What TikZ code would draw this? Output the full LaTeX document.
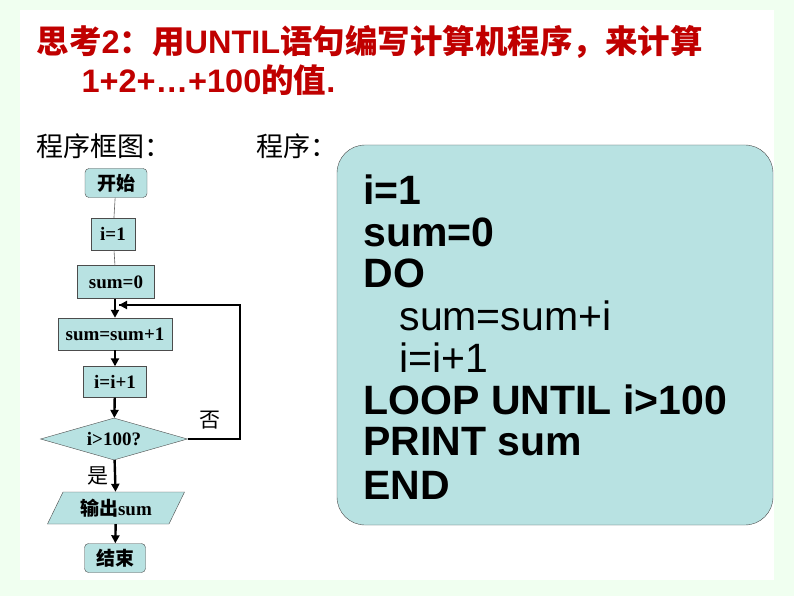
\documentclass[tikz,border=0pt]{standalone}
\usepackage{fontspec}
\setmainfont{Liberation Serif}
\newfontfamily\cjk{Noto Sans CJK SC}
\newfontfamily\arial{Liberation Sans}
\usetikzlibrary{shapes.geometric,arrows.meta}
\definecolor{boxfill}{HTML}{B8E2E2}
\definecolor{titlered}{HTML}{C00000}
\tikzset{
  fc/.style={draw=black!70,fill=boxfill,font=\bfseries\fontsize{19}{21}\selectfont,inner sep=0pt},
  rbox/.style={fc,rounded corners=4pt},
  arr/.style={-{Triangle[length=8pt,width=8pt]},line width=2.4pt},
  thin arr/.style={draw=black!60,line width=0.6pt},
  code/.style={anchor=west,font=\arial\bfseries\fontsize{41}{44}\selectfont},
}
\begin{document}
\begin{tikzpicture}[x=1pt,y=-1pt]
\useasboundingbox (0,0) rectangle (794,596);
\fill[green!6] (0,0) rectangle (794,596);
\fill[white] (20,10) rectangle (774,580);
% title
\node[anchor=west,text=titlered,font=\arial\bfseries\fontsize{32.5}{36}\selectfont] (t1) at (33,42) {{\cjk 思考}2{\cjk ：用}UNTIL{\cjk 语句编写计算机程序，来计算}};
\node[anchor=west,text=titlered,font=\arial\bfseries\fontsize{32.5}{36}\selectfont] (t2) at (78,80) {1+2+…+100{\cjk 的值}.};
\node[anchor=west,font=\cjk\fontsize{27}{30}\selectfont] (l1) at (33,146) {程序框图：};
\node[anchor=west,font=\cjk\fontsize{27}{30}\selectfont] (l2) at (253,146) {程序：};
% flowchart
\node[rbox,minimum width=62pt,minimum height=29pt] (start) at (116,183) {\cjk 开始};
\node[fc,minimum width=44pt,minimum height=32pt] (i1) at (113,234) {i=1};
\node[fc,minimum width=77pt,minimum height=33pt] (s0) at (116,282) {sum=0};
\node[fc,minimum width=114pt,minimum height=32pt] (ss) at (115,334) {sum=sum+1};
\node[fc,minimum width=63pt,minimum height=31pt] (ii) at (115,382) {i=i+1};
\node[fc,diamond,aspect=3.5,minimum width=147pt,minimum height=42pt] (dec) at (114,439) {i>100?};
\node[fc,trapezium,trapezium left angle=60,trapezium right angle=120,trapezium stretches=true,minimum width=138pt,minimum height=32pt] (out) at (116,508) {{\cjk 输出}sum};
\node[rbox,minimum width=61pt,minimum height=29pt] (end) at (115,558) {\cjk 结束};
\draw[thin arr] (start) -- (i1);
\draw[thin arr] (i1) -- (s0);
\draw[arr] (s0.south -| ss.north) -- (ss.north);
\draw[arr] (ss) -- (ii);
\draw[arr] (ii) -- (dec);
\draw[arr] (dec) -- (out);
\draw[arr] (out) -- (end);
\coordinate (c1) at (240,439);
\coordinate (c2) at (240,305);
\coordinate (c3) at (119,305);
\draw[arr,-] (dec.east) -- (c1) -- (c2) -- (c3);
\draw[arr] (c2) -- (c3);
\node[font=\cjk\fontsize{21}{24}\selectfont] (no) at (210,420) {否};
\node[font=\cjk\fontsize{21}{24}\selectfont] (yes) at (98,476) {是};
% code box
\node[draw=black!70,fill=boxfill,rounded corners=28pt,minimum width=436pt,minimum height=380pt] (cb) at (555,335) {};
\node[code] (c01) at (360,190) {i=1};
\node[code] (c02) at (360,232) {sum=0};
\node[code] (c03) at (360,273) {DO};
\node[code,font=\arial\fontsize{41}{44}\selectfont] (c04) at (396,316) {sum=sum+i};
\node[code,font=\arial\fontsize{41}{44}\selectfont] (c05) at (396,358) {i=i+1};
\node[code] (c06) at (360,400) {LOOP UNTIL i>100};
\node[code] (c07) at (360,442) {PRINT sum};
\node[code] (c08) at (360,485) {END};
\end{tikzpicture}
\end{document}
